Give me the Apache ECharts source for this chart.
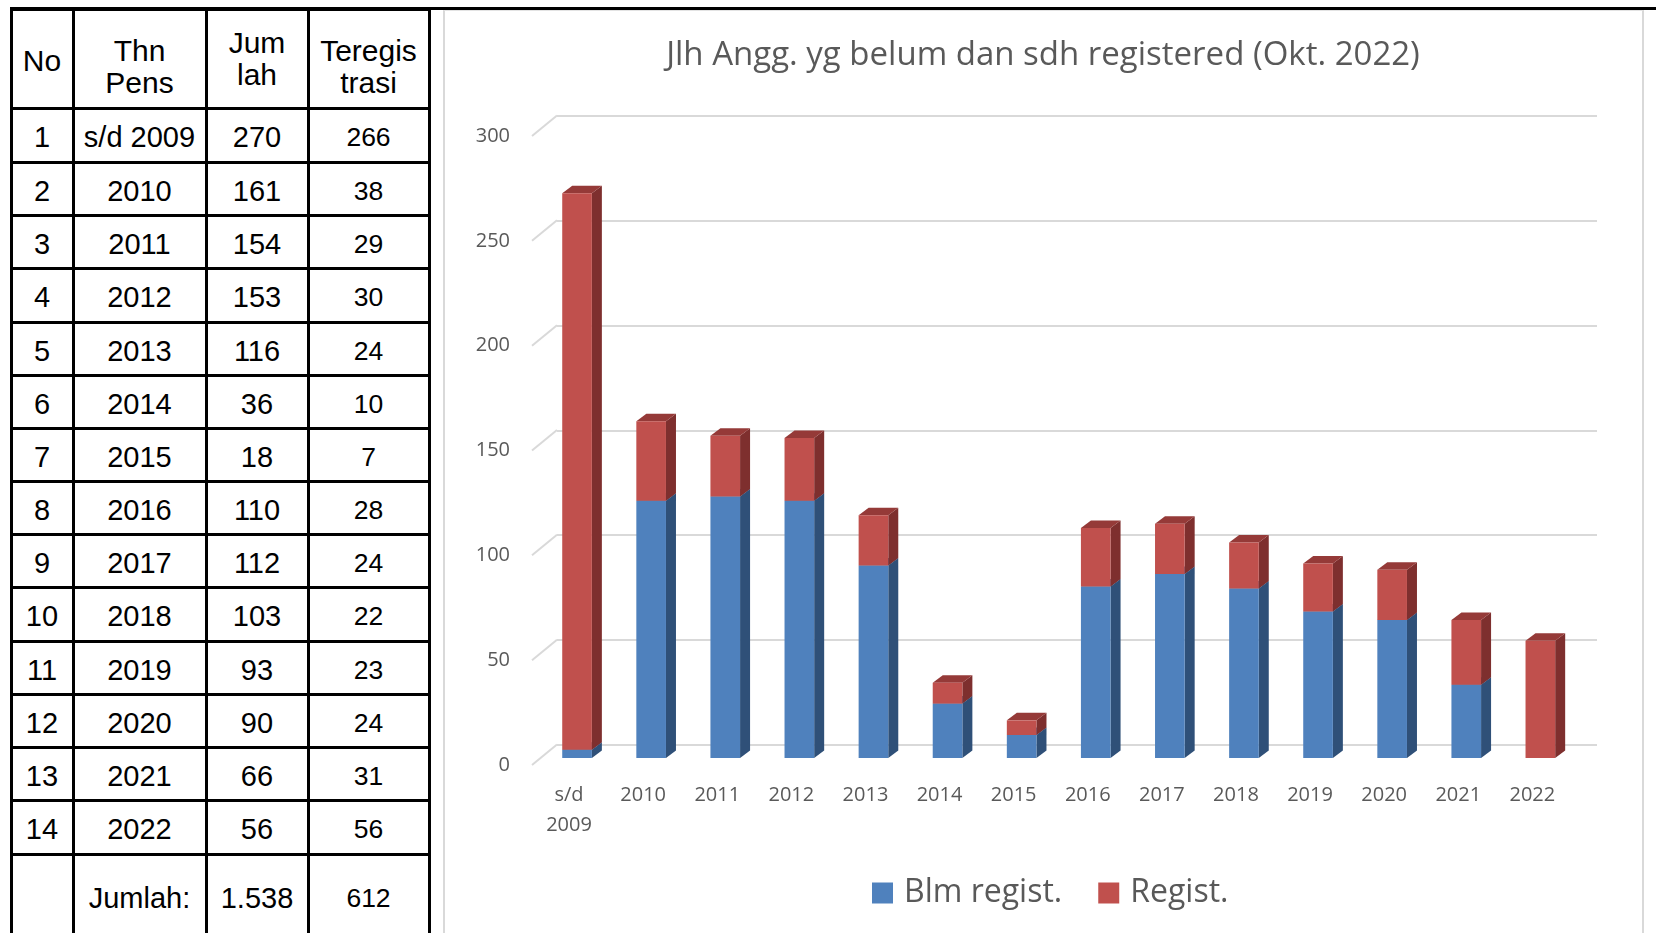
<!DOCTYPE html>
<html>
<head>
<meta charset="utf-8">
<script src="https://cdn.jsdelivr.net/npm/echarts@6/dist/echarts.min.js"></script>
<style>
html,body{margin:0;padding:0;width:1656px;height:933px;overflow:hidden;background:#fff;}
#topline{position:absolute;left:10px;top:7px;width:1646px;height:3px;background:#000;}
#panel{position:absolute;left:443px;top:10px;width:1197px;height:1000px;border-left:2px solid #d9d9d9;border-right:2px solid #d9d9d9;border-top:1px solid #e3e3e3;}
#chart{position:absolute;left:444px;top:0;width:1198px;height:933px;}
#tbl{position:absolute;left:0;top:0;width:440px;height:933px;font-family:"Liberation Sans",Arial,sans-serif;color:#000;}
.ln{position:absolute;background:#000;}
.cell{position:absolute;display:flex;align-items:center;justify-content:center;text-align:center;font-size:29px;line-height:32px;box-sizing:border-box;}
</style>
</head>
<body>
<div id="panel"></div>
<div id="chart"></div>
<div id="tbl"></div>
<div id="topline"></div>
<script>
// ---- data ----
const rowNo = [1,2,3,4,5,6,7,8,9,10,11,12,13,14];
const categories = ['s/d 2009','2010','2011','2012','2013','2014','2015','2016','2017','2018','2019','2020','2021','2022'];
const jumlah = [270,161,154,153,116,36,18,110,112,103,93,90,66,56];
const teregistrasi = [266,38,29,30,24,10,7,28,24,22,23,24,31,56];
const blmRegist = [4,123,125,123,92,26,11,82,88,81,70,66,35,0];
const regist = [266,38,29,30,24,10,7,28,24,22,23,24,31,56];
const yTicks = [0,50,100,150,200,250,300];
const headers = ['No','Thn<br>Pens','Jum<br>lah','Teregis<br>trasi'];
const seriesNames = ['Blm regist.','Regist.'];
const titleText = 'Jlh Angg. yg belum dan sdh registered (Okt. 2022)';

// ---- table ----
const tbl = document.getElementById('tbl');
const colX = [11,73,206,308,429];
const rowY = [9,108,162,215,268,322,375,428,481,534,587,641,694,747,800,854,945];
function addLine(x,y,w,h){const d=document.createElement('div');d.className='ln';d.style.cssText=`left:${x}px;top:${y}px;width:${w}px;height:${h}px`;tbl.appendChild(d);}
colX.forEach(x=>addLine(x-1.5,8,3,940));
rowY.forEach(y=>addLine(10,y-1.5,421,3));
function addCell(html,c,r,extra){
  const d=document.createElement('div');d.className='cell';
  d.style.left=colX[c]+'px';d.style.width=(colX[c+1]-colX[c])+'px';
  d.style.top=rowY[r]+'px';d.style.height=(rowY[r+1]-rowY[r])+'px';
  if(extra) Object.assign(d.style,extra);
  d.innerHTML=html;tbl.appendChild(d);
}
addCell(headers[0],0,0,{paddingTop:'4px',fontSize:'30px'});
addCell(headers[1],1,0,{paddingTop:'16px',fontSize:'30px'});
addCell(headers[2],2,0,{paddingTop:'0px',fontSize:'30px'});
addCell(headers[3],3,0,{paddingTop:'16px',fontSize:'30px'});
categories.forEach((c,i)=>{
  addCell(String(rowNo[i]),0,i+1,{paddingTop:'4px'});
  addCell(c,1,i+1,{paddingTop:'4px'});
  addCell(String(jumlah[i]),2,i+1,{paddingTop:'4px'});
  addCell(String(teregistrasi[i]),3,i+1,{paddingTop:'4px',fontSize:'26.5px'});
});
const fmt = n => String(n).replace(/\B(?=(\d{3})+(?!\d))/g,'.');
const last = categories.length+1;
addCell('',0,last);
addCell('Jumlah:',1,last,{paddingBottom:'4px'});
addCell(fmt(jumlah.reduce((a,b)=>a+b,0)),2,last,{paddingBottom:'4px'});
addCell(fmt(teregistrasi.reduce((a,b)=>a+b,0)),3,last,{paddingBottom:'4px',fontSize:'26.5px'});

// ---- chart ----
const DEPTH = [10,-7.5];
function bar3d(front, top, side){
  return function(params, api){
    const i=api.value(0), s=api.value(1), e=api.value(2);
    if(e<=s) return null;
    const b=api.coord([i,s]), t=api.coord([i,e]);
    const w=api.size([1,0])[0]*0.4;
    const x0=b[0]-w/2, x1=b[0]+w/2, yb=b[1], yt=t[1];
    const dx=DEPTH[0], dy=DEPTH[1];
    return {type:'group',children:[
      {type:'polygon',shape:{points:[[x1,yb],[x1+dx,yb+dy],[x1+dx,yt+dy],[x1,yt]]},style:{fill:side}},
      {type:'polygon',shape:{points:[[x0,yt],[x0+dx,yt+dy],[x1+dx,yt+dy],[x1,yt]]},style:{fill:top}},
      {type:'rect',shape:{x:x0,y:yt,width:w,height:yb-yt},style:{fill:front}}
    ]};
  };
}
const FONT='"Open Sans", sans-serif';
const chart = echarts.init(document.getElementById('chart'));
chart.setOption({
  animation:false,
  title:{text:titleText,left:'center',top:34,textStyle:{fontSize:33,fontWeight:'normal',color:'#595959',fontFamily:FONT}},
  legend:{data:[{name:seriesNames[0],icon:'rect'},{name:seriesNames[1],icon:'rect'}],left:423,top:872,itemWidth:21,itemHeight:21,itemGap:36,
    textStyle:{fontSize:32,color:'#595959',fontFamily:FONT,padding:[0,0,0,6]}},
  grid:[
    {left:88,width:20,top:136,bottom:168},
    {left:113,right:45,top:116,bottom:188.5},
    {left:96,right:64.6,top:130.4,bottom:175}
  ],
  xAxis:[
    {gridIndex:0,type:'value',min:0,max:1,show:false},
    {gridIndex:1,type:'value',min:0,max:1,show:false},
    {gridIndex:2,type:'category',data:categories,axisLine:{show:false},axisTick:{show:false},
      axisLabel:{margin:22,fontSize:20,color:'#595959',fontFamily:FONT,lineHeight:30,padding:[0,16,0,0],interval:0,formatter:v=>v.replace(' ','\n')}}
  ],
  yAxis:[
    {gridIndex:0,type:'value',min:0,max:300,interval:50,axisLine:{show:false},axisTick:{show:false},splitLine:{show:false},
      axisLabel:{margin:22,fontSize:20,color:'#595959',fontFamily:FONT}},
    {gridIndex:1,type:'value',min:0,max:300,interval:50,axisLine:{show:false},axisTick:{show:false},axisLabel:{show:false},
      splitLine:{lineStyle:{color:'#d9d9d9',width:2}}},
    {gridIndex:2,type:'value',min:0,max:300,show:false}
  ],
  series:[
    {type:'custom',xAxisIndex:0,yAxisIndex:0,silent:true,clip:false,data:yTicks.map(v=>[0,v]),
      renderItem:function(params,api){const p=api.coord([0,api.value(1)]);return {type:'line',shape:{x1:p[0],y1:p[1],x2:p[0]+25,y2:p[1]-20.5},style:{stroke:'#d9d9d9',lineWidth:2}};}},
    {type:'custom',name:seriesNames[0],xAxisIndex:2,yAxisIndex:2,clip:false,itemStyle:{color:'#4f81bd'},
      encode:{x:0,y:[1,2]},data:blmRegist.map((v,i)=>[i,0,v]),renderItem:bar3d('#4f81bd','#3e6797','#2f5078')},
    {type:'custom',name:seriesNames[1],xAxisIndex:2,yAxisIndex:2,clip:false,itemStyle:{color:'#c0504d'},
      encode:{x:0,y:[1,2]},data:regist.map((v,i)=>[i,blmRegist[i],blmRegist[i]+v]),renderItem:bar3d('#c0504d','#953a38','#7e2f2e')}
  ]
});
</script>
</body>
</html>
